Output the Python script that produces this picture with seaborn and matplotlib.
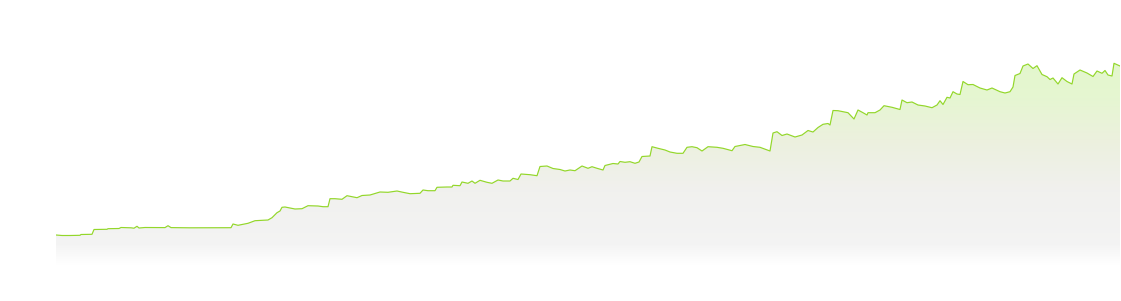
import numpy as np
import pandas as pd
import matplotlib
matplotlib.use("Agg")
import matplotlib.pyplot as plt
from matplotlib.colors import LinearSegmentedColormap
import seaborn as sns

# ---- data (day index, value) ----
days = [0, 6, 14, 24, 25, 36, 38, 51, 52, 63, 65, 75, 78, 81, 83, 89, 109, 112, 115, 134,
        154, 175, 177, 182, 192, 199, 212, 216, 221, 224, 226, 229, 239, 246, 252, 262, 267, 272, 274, 279,
        286, 291, 296, 301, 306, 314, 324, 332, 341, 347, 354, 364, 367, 372, 379, 381, 391, 396, 397, 404,
        406, 412, 416, 419, 424, 431, 436, 442, 447, 454, 457, 462, 465, 474, 481, 484, 491, 497, 504, 509,
        514, 519, 526, 532, 536, 541, 547, 549, 557, 562, 564, 569, 574, 579, 583, 586, 594, 596, 602, 609,
        614, 621, 627, 631, 636, 641, 646, 652, 661, 667, 676, 679, 689, 697, 704, 714, 717, 721, 726, 731,
        739, 746, 752, 757, 762, 767, 772, 774, 777, 782, 792, 798, 802, 807, 811, 812, 819, 824, 828, 836,
        844, 846, 851, 856, 862, 869, 876, 881, 884, 887, 891, 894, 897, 901, 904, 907, 912, 917, 924, 931,
        936, 944, 949, 954, 957, 959, 964, 967, 972, 977, 981, 986, 991, 994, 997, 1002, 1006, 1011, 1016, 1018,
        1024, 1031, 1037, 1041, 1046, 1049, 1052, 1056, 1058, 1064]
values = [30, 29.5, 29.5, 29.7, 30.5, 30.7, 35.5, 35.7, 36.3, 36.5, 37.5, 37.2, 36.8, 38.7, 37, 37.5, 37.4, 39.3, 37.4, 37.2,
          37.2, 37.3, 41, 39.7, 41.7, 44.3, 45, 47.3, 52.3, 54, 57.7, 58, 56, 56.3, 59.3, 59, 58.3, 58.3, 66.3, 66.3,
          65.7, 69.3, 68.3, 67.3, 69.5, 70, 73, 72.7, 74, 72.7, 71.3, 71.7, 75, 74.3, 74.3, 77.7, 78, 78, 79.7, 79.3,
          83, 81.7, 84, 81.7, 84.7, 82.7, 81.7, 85, 84, 84, 86.7, 85.5, 91, 90.3, 89.3, 98.5, 99, 96.5, 95.5, 94,
          95, 94.3, 99, 96.7, 98.3, 96.7, 95, 99.5, 101.5, 101, 103.5, 102.7, 103.3, 101.7, 103, 108.5, 109, 118.3, 116.7, 115,
          113, 111.7, 111.7, 117.7, 118.3, 117.3, 114, 118.3, 117.7, 116.7, 114.3, 118.5, 120.5, 118.5, 117.7, 114, 132, 133.3, 129.5, 131,
          128, 130, 134.5, 133, 137.5, 140.7, 141.5, 140, 154.5, 154.3, 152.3, 146, 155, 152.3, 150, 152.3, 152.3, 155, 159.3, 157.7,
          155.5, 165, 162.3, 163, 160, 159, 157.3, 160, 164.3, 160.5, 167.7, 167, 173.3, 171, 170.5, 183.5, 180.3, 180.5, 177, 175,
          177, 173.3, 172, 173.3, 178, 189.5, 191.5, 199, 201, 196.5, 199.3, 190.5, 188.3, 185.5, 187, 181, 187.3, 183.5, 181, 191,
          195, 192, 188.5, 194, 191.7, 194.5, 190, 189, 201.7, 199]

df = pd.DataFrame({"day": days, "value": values})

LINE_COLOR = "#93d72a"

sns.set_theme(style="white")
fig = plt.figure(figsize=(11.21, 3.01), dpi=100)
fig.patch.set_facecolor("white")
ax = fig.add_axes([56 / 1121, (301 - 265) / 301, (1120 - 56) / 1121, 265 / 301])
ax.set_xlim(0, 1064)
ax.set_ylim(0, 265)
ax.axis("off")

# gradient fill under the line
poly = ax.fill_between(df["day"], df["value"], 0, facecolor="none", edgecolor="none")
cmap = LinearSegmentedColormap.from_list(
    "grad",
    [(0.0, (1, 1, 1, 1)),
     (0.10, (0.955, 0.955, 0.955, 1)),
     (0.35, (0.945, 0.945, 0.935, 1)),
     (0.60, (0.925, 0.945, 0.87, 1)),
     (0.80, (0.90, 0.965, 0.82, 1)),
     (1.0, (0.89, 0.97, 0.80, 1))])
grad = np.linspace(0, 1, 256).reshape(-1, 1)
im = ax.imshow(grad, cmap=cmap, origin="lower", aspect="auto",
               extent=[0, 1064, 0, 210], zorder=1, interpolation="bilinear")
path = poly.get_paths()[0]
im.set_clip_path(path, transform=ax.transData)

sns.lineplot(data=df, x="day", y="value", ax=ax, color=LINE_COLOR, linewidth=0.85, zorder=3)
ax.set_xlim(0, 1064)
ax.set_ylim(0, 265)
ax.axis("off")

fig.savefig("out.png", dpi=100, facecolor="white")
